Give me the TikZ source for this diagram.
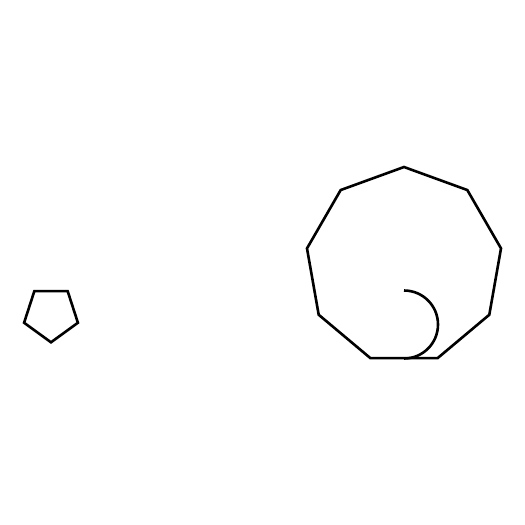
\documentclass[tikz,border=0pt]{standalone}
\begin{document}
\begin{tikzpicture}[x=1pt,y=-1pt,line width=2.6pt,line join=miter,
  shapeline/.style={draw=black}]
\useasboundingbox (0,0) rectangle (525,525);
% pentagon
\begin{scope}[shift={(51,314)}]
\draw[shapeline] (90:28.3) -- (162:28.3) -- (234:28.3) -- (306:28.3) -- (18:28.3) -- cycle;
\end{scope}
% nonagon
\begin{scope}[shift={(404,265.5)}]
\draw[shapeline] (-90:98.5) -- (-50:98.5) -- (-10:98.5) -- (30:98.5) -- (70:98.5) -- (110:98.5) -- (150:98.5) -- (190:98.5) -- (230:98.5) -- cycle;
\coordinate (arcstart) at (0,25);
\end{scope}
% arc
\draw[shapeline] (arcstart) arc[start angle=-90,end angle=90,radius=34];
\end{tikzpicture}
\end{document}
